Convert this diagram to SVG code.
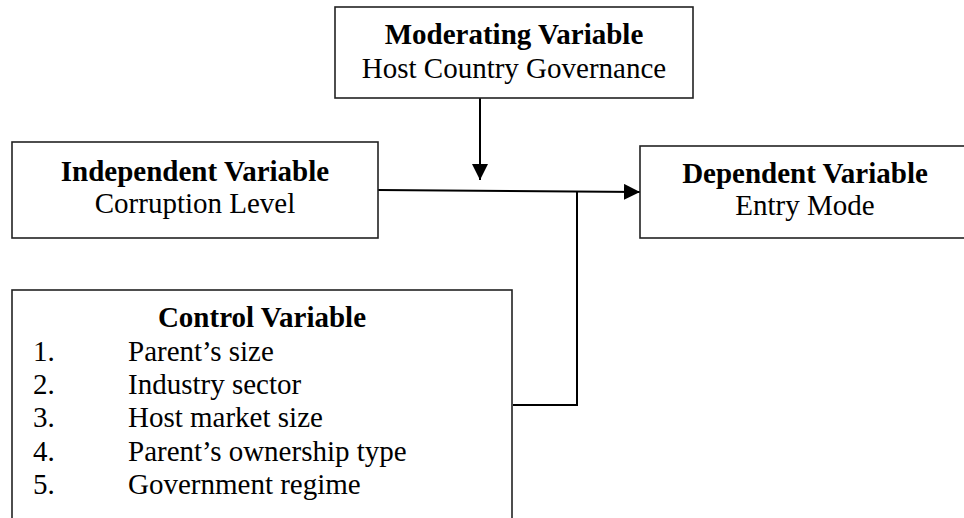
<svg xmlns="http://www.w3.org/2000/svg" width="964" height="518" viewBox="0 0 964 518">
<style>
.box{fill:#fff;stroke:#222;stroke-width:1.6}
.t{font-family:"Liberation Serif","Times New Roman",serif;font-size:29px;fill:#000}
.b{font-weight:bold}
.c{text-anchor:middle}
.ln{fill:none;stroke:#000;stroke-width:2}
</style>
<defs>
<marker id="ah" markerWidth="16" markerHeight="16" viewBox="0 0 16 16" refX="16" refY="8" orient="auto" markerUnits="userSpaceOnUse">
<path d="M0,0 L16,8 L0,16 Z" fill="#000"/>
</marker>
</defs>
<rect width="964" height="518" fill="#fff"/>
<g id="connectors">
<line class="ln" x1="480" y1="98" x2="480" y2="180" marker-end="url(#ah)"/>
<line class="ln" x1="378" y1="190" x2="640" y2="192" marker-end="url(#ah)"/>
<polyline class="ln" points="513,405 577,405 577,191.5"/>
</g>
<g id="moderating">
<rect class="box" x="335" y="7" width="358" height="91"/>
<text class="t b c" x="514" y="44">Moderating Variable</text>
<text class="t c" x="514" y="78">Host Country Governance</text>
</g>
<g id="independent">
<rect class="box" x="12" y="142" width="366" height="96"/>
<text class="t b c" x="195" y="181">Independent Variable</text>
<text class="t c" x="195" y="213">Corruption Level</text>
</g>
<g id="dependent">
<rect class="box" x="640" y="146" width="340" height="92"/>
<text class="t b c" x="805" y="183">Dependent Variable</text>
<text class="t c" x="805" y="215">Entry Mode</text>
</g>
<g id="control">
<rect class="box" x="12" y="290" width="500" height="240"/>
<text class="t b c" x="262" y="327">Control Variable</text>
<text class="t" x="33" y="361">1.</text><text class="t" x="128" y="361">Parent’s size</text>
<text class="t" x="33" y="394">2.</text><text class="t" x="128" y="394">Industry sector</text>
<text class="t" x="33" y="427">3.</text><text class="t" x="128" y="427">Host market size</text>
<text class="t" x="33" y="461">4.</text><text class="t" x="128" y="461">Parent’s ownership type</text>
<text class="t" x="33" y="494">5.</text><text class="t" x="128" y="494">Government regime</text>
</g>
</svg>
